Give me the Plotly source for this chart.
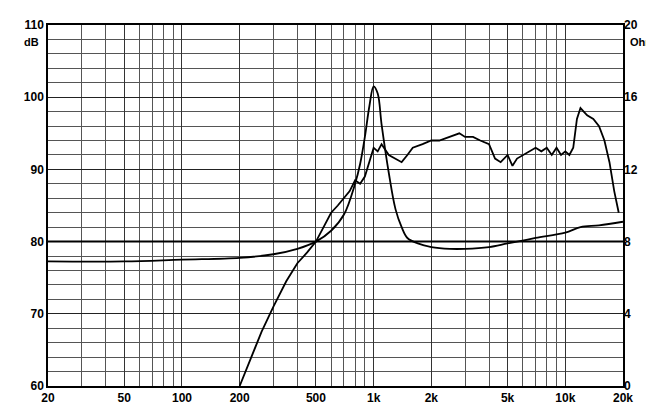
import plotly.graph_objects as go

spl_f = [200,215,230,260,300,350,400,450,500,550,600,650,700,750,800,850,900,950,1000,1050,1100,1200,1300,1400,1500,1600,1800,2000,2200,2500,2800,3000,3300,3600,4000,4300,4600,5000,5300,5600,6000,6500,7000,7500,8000,8500,9000,9500,10000,10500,11000,11500,12000,13000,14000,15000,16000,17000,18000,19000]
spl_db = [60,62,64,67.5,71,74.5,77,78.5,80,82,84,85,86,87,88.5,88,89,91,93,92.5,93.5,92,91.5,91,92,93,93.5,94,94,94.5,95,94.5,94.5,94,93.5,91.5,91,92,90.5,91.5,92,92.5,93,92.5,93,92,93,92,92.5,92,93,97,98.5,97.5,97,96,94,91,87,84]

imp_f = [20,50,100,200,300,400,500,600,700,800,850,900,950,1000,1050,1100,1200,1300,1400,1500,1700,2000,2500,3000,4000,5000,7000,10000,12000,15000,20000]
imp_ohm = [6.9,6.9,7.0,7.1,7.3,7.6,8.0,8.6,9.5,11.2,12.3,13.8,15.5,16.6,16.2,14.5,11.8,9.8,8.8,8.2,7.9,7.7,7.6,7.6,7.7,7.9,8.2,8.5,8.8,8.9,9.1]

x_ticks = [20,50,100,200,500,1000,2000,5000,10000,20000]
x_text = ["20","50","100","200","500","1k","2k","5k","10k","20k"]
minor_x = [m*10**e for e in range(1,5) for m in range(1,10) if 20 <= m*10**e <= 20000]

bold = dict(family="Liberation Sans", size=12, color="black", weight="bold")
fig = go.Figure()
fig.add_trace(go.Scatter(x=spl_f, y=spl_db, mode="lines", line=dict(color="black", width=1.8), showlegend=False))
fig.add_trace(go.Scatter(x=imp_f, y=imp_ohm, yaxis="y2", mode="lines", line=dict(color="black", width=1.8, shape="spline"), showlegend=False))

fig.update_layout(
    width=654, height=414, margin=dict(l=40, r=39, t=17, b=36, autoexpand=False),
    paper_bgcolor="white", plot_bgcolor="white", font=bold,
    xaxis=dict(type="log", range=[1.30103, 4.30103], tickvals=x_ticks, ticktext=x_text,
               showgrid=True, gridcolor="#333", gridwidth=1, ticks="", automargin=False,
               minor=dict(tickvals=minor_x, showgrid=True, gridcolor="#555", gridwidth=0.7),
               showline=True, linecolor="black", linewidth=1.5, mirror=True, tickfont=bold),
    yaxis=dict(range=[60, 110], dtick=10, showgrid=True, gridcolor="#222", gridwidth=1.2, automargin=False,
               minor=dict(dtick=2, showgrid=True, gridcolor="#555", gridwidth=0.7),
               showline=True, linecolor="black", linewidth=1.5, mirror=True, zeroline=False, tickfont=bold),
    yaxis2=dict(range=[0, 20], dtick=4, overlaying="y", side="right", showgrid=False, zeroline=False,
                automargin=False, tickfont=bold),
    shapes=[dict(type="line", xref="paper", x0=0, x1=1, yref="y", y0=80, y1=80, line=dict(color="black", width=2))],
    annotations=[
        dict(text="<b>dB</b>", xref="paper", yref="paper", x=-0.012, y=0.975, xanchor="right", showarrow=False, font=dict(size=11)),
        dict(text="<b>Ohm</b>", xref="paper", yref="paper", x=1.008, y=0.975, xanchor="left", showarrow=False, font=dict(size=11)),
        dict(text="<b>Hz</b>", xref="x", yref="paper", x=0.5, y=-0.025, yanchor="top", showarrow=False),
    ],
)
fig.write_html("out.html")
